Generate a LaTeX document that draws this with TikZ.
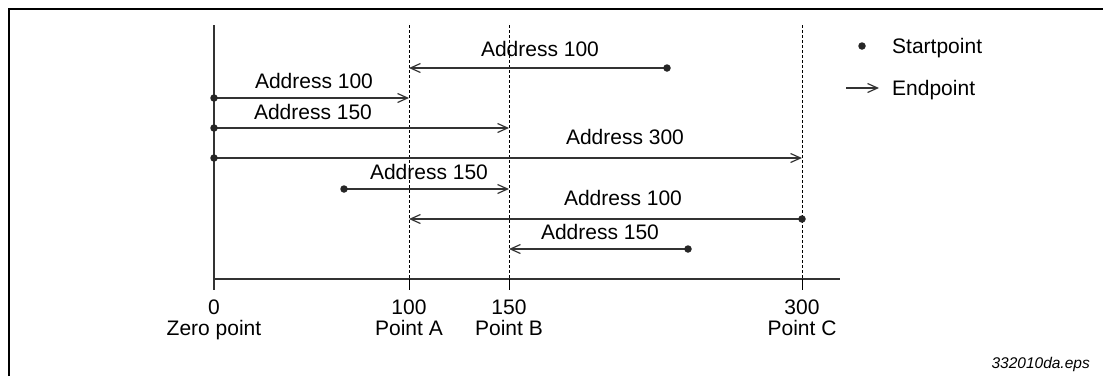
\documentclass[tikz,border=0pt]{standalone}
\usepackage{fontspec}
\setmainfont{Liberation Sans}
\usetikzlibrary{arrows.meta}
\definecolor{linegray}{HTML}{333333}
\tikzset{
  conn/.style={draw=linegray, line width=1.5pt, -{Straight Barb[length=10pt,width=9pt,line width=1.2pt]}},
  guide/.style={draw=black, line width=0.9pt, dash pattern=on 3pt off 2pt},
  tick/.style={draw=black, line width=1pt},
  axisline/.style={draw=linegray, line width=1.5pt},
  startdot/.style={circle, fill=black!85, inner sep=0pt, minimum size=7.5pt},
  lbl/.style={anchor=base, inner sep=0pt, font=\fontsize{21}{21}\selectfont},
  frameline/.style={draw=black, line width=2.4pt}
}
\begin{document}
\begin{tikzpicture}[x=1pt, y=-1pt]
\useasboundingbox (0,0) rectangle (1103,376);
% frame (top and left edges)
\draw[frameline] (9,376) -- (9,9) -- (1103,9);

% reference positions on the axis
\coordinate (zt) at (214,25);
\coordinate (z0) at (214,279);
\coordinate (zb) at (214,290);
\coordinate (at) at (409,25);
\coordinate (a0) at (409,279);
\coordinate (ab) at (409,290);
\coordinate (bt) at (509,25);
\coordinate (b0) at (509,279);
\coordinate (bb) at (509,290);
\coordinate (ct) at (802,25);
\coordinate (c0) at (802,279);
\coordinate (cb) at (802,290);
\coordinate (axend) at (840,279);

% zero line, axis and guides
\draw[axisline] (zt) -- (zb);
\draw[axisline] (z0) -- (axend);
\draw[guide] (at) -- (a0);
\draw[guide] (bt) -- (b0);
\draw[guide] (ct) -- (c0);
\draw[tick] (a0) -- (ab);
\draw[tick] (b0) -- (bb);
\draw[tick] (c0) -- (cb);

% axis labels
\node[lbl] (n0) at (214,314) {0};
\node[lbl] (nz) at (214,335) {Zero point};
\node[lbl] (n100) at (409,314) {100};
\node[lbl] (na) at (409,335) {Point A};
\node[lbl] (n150) at (509,314) {150};
\node[lbl] (nb) at (509,335) {Point B};
\node[lbl] (n300) at (802,314) {300};
\node[lbl] (nc) at (802,335) {Point C};

% transfers: start point -> end point
\coordinate (s1) at (667,68);  \coordinate (e1) at (409,68);
\coordinate (s2) at (214,98);  \coordinate (e2) at (409,98);
\coordinate (s3) at (214,128); \coordinate (e3) at (509,128);
\coordinate (s4) at (214,158); \coordinate (e4) at (802,158);
\coordinate (s5) at (344,189); \coordinate (e5) at (509,189);
\coordinate (s6) at (802,219); \coordinate (e6) at (409,219);
\coordinate (s7) at (688,249); \coordinate (e7) at (509,249);

\foreach \i in {1,...,7} {
  \draw[conn] (s\i) -- (e\i);
  \node[startdot] (d\i) at (s\i) {};
}

\node[lbl] (l1) at (540,56)  {Address 100};
\node[lbl] (l2) at (314,88)  {Address 100};
\node[lbl] (l3) at (313,119) {Address 150};
\node[lbl] (l4) at (625,144) {Address 300};
\node[lbl] (l5) at (429,179) {Address 150};
\node[lbl] (l6) at (623,205) {Address 100};
\node[lbl] (l7) at (600,239) {Address 150};

% legend
\node[startdot] (legdot) at (862,46) {};
\node[lbl, anchor=base west] (legs) at (892,53.5) {Startpoint};
\coordinate (legas) at (846,88);
\coordinate (legae) at (879,88);
\draw[conn] (legas) -- (legae);
\node[lbl, anchor=base west] (lege) at (892,95.5) {Endpoint};

% file tag
\node[anchor=base east, inner sep=0pt, font=\fontsize{15.5}{15.5}\selectfont\itshape] (tag) at (1090,368.5) {332010da.eps};
\end{tikzpicture}
\end{document}
